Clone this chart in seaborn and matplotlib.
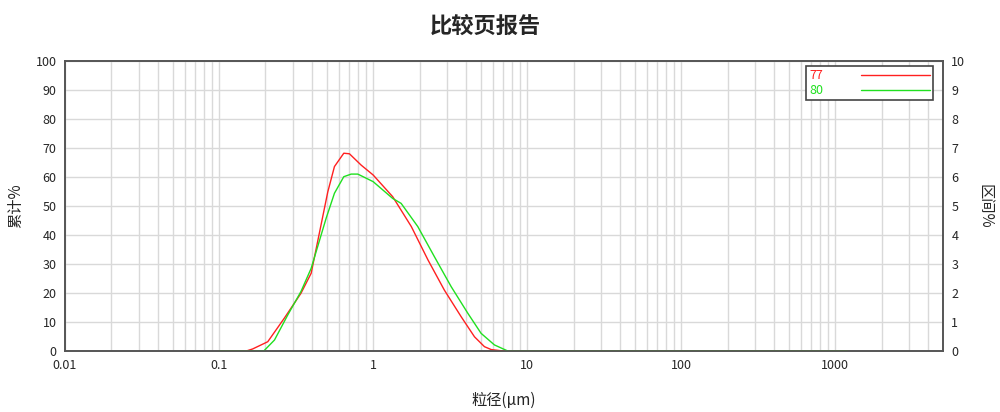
import matplotlib
matplotlib.use('Agg')
import matplotlib.pyplot as plt
import seaborn as sns
import numpy as np
import pandas as pd
from matplotlib.ticker import LogLocator, FixedLocator, NullFormatter

# 粒径 (μm) 和 区间% 数据
size_77 = [0.10, 0.15, 0.165, 0.207, 0.265, 0.34, 0.396, 0.508, 0.561, 0.645, 0.702, 0.836, 1.0,
           1.34, 1.77, 2.27, 2.90, 3.73, 4.55, 5.28, 5.84, 7.0, 1200]
freq_77 = [0.0, 0.0, 0.07, 0.32, 1.13, 1.99, 2.68, 5.49, 6.36, 6.82, 6.80, 6.41, 6.07,
           5.32, 4.29, 3.14, 2.10, 1.18, 0.49, 0.15, 0.05, 0.0, 0.0]
size_80 = [0.10, 0.195, 0.229, 0.279, 0.34, 0.396, 0.495, 0.561, 0.645, 0.72, 0.795, 1.0,
           1.34, 1.52, 1.95, 2.50, 3.21, 4.12, 5.02, 6.13, 7.49, 1200]
freq_80 = [0.0, 0.0, 0.38, 1.24, 2.05, 2.85, 4.57, 5.44, 6.01, 6.10, 6.10, 5.84,
           5.26, 5.09, 4.29, 3.25, 2.22, 1.30, 0.61, 0.21, 0.0, 0.0]
sample_names = ['77', '80']
sample_colors = ['#ff2020', '#20e020']

sns.set_style('white')
plt.rcParams['font.family'] = ['Noto Sans CJK SC', 'DejaVu Sans']
plt.rcParams['axes.unicode_minus'] = False

df = pd.concat([
    pd.DataFrame({'size': size_77, 'freq': freq_77, 'name': '77'}),
    pd.DataFrame({'size': size_80, 'freq': freq_80, 'name': '80'}),
])

fig = plt.figure(figsize=(10, 4.12), dpi=100)
ax = fig.add_axes([0.065, 0.148, 0.878, 0.704])
ax.set_xscale('log')
ax.set_xlim(0.01, 5000)
ax.set_ylim(0, 100)
ax.set_yticks(range(0, 101, 10))
ax.xaxis.set_major_locator(FixedLocator([0.01, 0.1, 1, 10, 100, 1000]))
ax.set_xticklabels(['0.01', '0.1', '1', '10', '100', '1000'])
ax.xaxis.set_minor_locator(LogLocator(base=10, subs=np.arange(2, 10)))
ax.xaxis.set_minor_formatter(NullFormatter())
ax.grid(True, which='both', color='#d9d9d9', linewidth=1)
ax.set_axisbelow(True)
ax.tick_params(which='both', length=0, labelsize=9, pad=6)
for s in ax.spines.values():
    s.set_color('#555555')
    s.set_linewidth(1.2)
ax.set_ylabel('累计%', fontsize=11, labelpad=8)
ax.set_xlabel('粒径(μm)', fontsize=11, labelpad=14)

ax2 = ax.twinx()
sns.lineplot(data=df, x='size', y='freq', hue='name', palette=sample_colors,
             hue_order=sample_names, ax=ax2, linewidth=1, estimator=None, sort=False)
ax2.set_ylim(0, 10)
ax2.set_yticks(range(0, 11))
ax2.tick_params(length=0, labelsize=9, pad=6)
ax2.set_ylabel('区间%', fontsize=11, rotation=270, labelpad=20)
ax2.set_xlabel('')
for s in ax2.spines.values():
    s.set_color('#555555')
    s.set_linewidth(1.2)

leg = ax2.legend(loc='upper right', markerfirst=False, fontsize=9, handlelength=5.5,
                 borderpad=0.25, labelspacing=0.15, handletextpad=3.0, borderaxespad=0,
                 fancybox=False, framealpha=1, edgecolor='#444444',
                 bbox_to_anchor=(0.9886, 0.983))
leg.get_frame().set_linewidth(1.2)
for t, c in zip(leg.get_texts(), sample_colors):
    t.set_color(c)

fig.text(0.485, 0.935, '比较页报告', ha='center', va='center', fontsize=16, fontweight='bold')

fig.savefig('out.png', dpi=100)
